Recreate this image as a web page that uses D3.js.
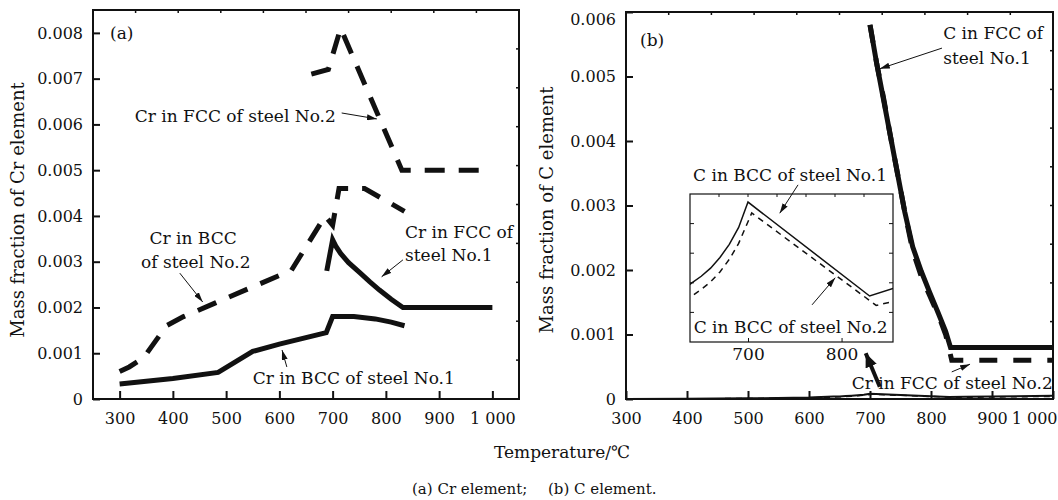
<!DOCTYPE html>
<head>
<meta charset="utf-8">
<title>Mass fraction of Cr and C</title>
<script src="https://d3js.org/d3.v7.min.js"></script>
<style>
  body { margin: 0; background: #fff; }
  text { font-family: "DejaVu Serif", serif; fill: #111; }
</style>
</head>
<body>
<svg width="1058" height="500"></svg>
<script>
// ---- data (temperature in C, mass fraction) ----
var crFccSteel2 = [[660, 0.0071], [692, 0.0072], [715, 0.0081], [830, 0.0050], [1000, 0.0050]];
var crBccSteel2 = [[300, 0.0006], [318, 0.0007], [345, 0.0009], [388, 0.0016], [420, 0.0018], [480, 0.0021], [540, 0.0024], [600, 0.0027], [622, 0.0028], [686, 0.0040], [700, 0.0038], [712, 0.0046], [760, 0.0046], [835, 0.0041]];
var crFccSteel1 = [[689, 0.0028], [700, 0.00348], [706, 0.00334], [715, 0.00318], [730, 0.00298], [751, 0.00276], [770, 0.00256], [788, 0.00238], [810, 0.00218], [832, 0.0020], [1000, 0.0020]];
var crBccSteel1 = [[300, 0.00033], [400, 0.00045], [485, 0.00058], [550, 0.00104], [600, 0.0012], [688, 0.00145], [700, 0.0018], [740, 0.0018], [780, 0.00175], [810, 0.00168], [835, 0.0016]];

var cFccSteel1 = [[700, 0.0058], [711, 0.0052], [722, 0.00465], [733, 0.0041], [745, 0.0035], [757, 0.0029], [770, 0.00236], [784, 0.00198], [798, 0.00165], [812, 0.00133], [824, 0.00105], [832, 0.0008], [1000, 0.0008]];
var cFccSteel2 = [[700, 0.0058], [711, 0.0052], [722, 0.00468], [733, 0.0041], [745, 0.0035], [757, 0.0029], [770, 0.0023], [784, 0.0019], [798, 0.0016], [812, 0.0013], [824, 0.001], [834, 0.0006], [1000, 0.0006]];
var cBccSteel1 = [[300, 0], [400, 0.000004], [500, 0.00001], [600, 0.000022], [640, 0.000037], [650, 0.0000405], [660, 0.0000448], [670, 0.0000505], [680, 0.0000575], [690, 0.0000665], [700, 0.00008], [830, 0.00003], [855, 0.000034], [1000, 0.00005]];
var cBccSteel2 = [[300, 0], [400, 0.000003], [500, 0.000008], [600, 0.000017], [640, 0.00003], [650, 0.0000335], [660, 0.0000375], [670, 0.0000428], [680, 0.0000495], [690, 0.000058], [704, 0.0000742], [837, 0.000025], [855, 0.000027], [1000, 0.00004]];

var xTicks = [300, 400, 500, 600, 700, 800, 900, 1000];
var crTicks = [0, 0.001, 0.002, 0.003, 0.004, 0.005, 0.006, 0.007, 0.008];
var cTicks = [0, 0.001, 0.002, 0.003, 0.004, 0.005, 0.006];
var insetTicks = [700, 800];

var svg = d3.select("svg");

var xa = d3.scaleLinear().domain([250, 1050]).range([93, 519]);
var ya = d3.scaleLinear().domain([0, 0.0085]).range([399, 10]);
var xb = d3.scaleLinear().domain([300, 1000]).range([626, 1053]);
var yb = d3.scaleLinear().domain([0, 0.006]).range([399, 12]);
var xi = d3.scaleLinear().domain([638, 855]).range([690, 893]);
var yi = d3.scaleLinear().domain([0.0000055, 0.0000843]).range([342, 194]);

var fmtT = function(d) { return d == 1000 ? "1 000" : d; };
var fmtY = function(d) { return d == 0 ? "0" : d3.format(".3f")(d); };

var defs = svg.append("defs");
defs.append("marker").attr("id", "head").attr("markerUnits", "userSpaceOnUse")
    .attr("viewBox", "0 0 10 6").attr("refX", 10).attr("refY", 3)
    .attr("markerWidth", 10).attr("markerHeight", 6).attr("orient", "auto")
    .append("path").attr("d", "M0,0L10,3L0,6Z").attr("fill", "#111");
defs.append("marker").attr("id", "bighead").attr("markerUnits", "userSpaceOnUse")
    .attr("viewBox", "0 0 14 12").attr("refX", 14).attr("refY", 6)
    .attr("markerWidth", 14).attr("markerHeight", 12).attr("orient", "auto")
    .append("path").attr("d", "M0,0L14,6L0,12Z").attr("fill", "#111");

function frame(x, y, yTicks, clipId) {
    var x0 = x.range()[0], x1 = x.range()[1], y0 = y.range()[0], y1 = y.range()[1];
    var g = svg.append("g");
    // minor ticks on top and right (10 equal parts)
    d3.range(1, 10).forEach(function(i) {
        var px = x0 + (x1 - x0) * i / 10, py = y1 + (y0 - y1) * i / 10;
        g.append("line").attr("x1", px).attr("x2", px).attr("y1", y1).attr("y2", y1 + 3).attr("stroke", "#111").attr("stroke-width", 1.5);
        g.append("line").attr("x1", x1).attr("x2", x1 - 3).attr("y1", py).attr("y2", py).attr("stroke", "#111").attr("stroke-width", 1.5);
    });
    g.append("g").attr("transform", "translate(0," + y0 + ")")
        .call(d3.axisBottom(x).tickValues(xTicks).tickSize(-8).tickPadding(14).tickFormat(fmtT))
        .call(function(a) {
            a.select(".domain").remove();
            a.selectAll("line").attr("stroke", "#111").attr("stroke-width", 2);
            a.selectAll("text").attr("font-size", 16).attr("font-family", "DejaVu Serif");
        });
    g.append("g").attr("transform", "translate(" + x0 + ",0)")
        .call(d3.axisLeft(y).tickValues(yTicks).tickSize(-7).tickPadding(10).tickFormat(fmtY))
        .call(function(a) {
            a.select(".domain").remove();
            a.selectAll("line").attr("stroke", "#111").attr("stroke-width", 2);
            a.selectAll("text").attr("font-size", 16).attr("font-family", "DejaVu Serif");
        });
    g.append("rect").attr("x", x0).attr("y", y1).attr("width", x1 - x0).attr("height", y0 - y1)
        .attr("fill", "none").attr("stroke", "#111").attr("stroke-width", 2);
    defs.append("clipPath").attr("id", clipId).append("rect")
        .attr("x", x0).attr("y", y1).attr("width", x1 - x0).attr("height", y0 - y1);
    return g;
}

var ga = frame(xa, ya, crTicks, "clipA");
var gb = frame(xb, yb, cTicks, "clipB");
// last tick label of panel b sits inside the window, top label drops a little
gb.selectAll(".tick text").filter(function(d) { return d == 1000; }).attr("text-anchor", "end").attr("dx", 4);
gb.selectAll(".tick text").filter(function(d) { return d == 0.006; }).attr("dy", "0.75em");

function curve(x, y, data, w, dash, clip) {
    var line = d3.line().x(function(d) { return x(d[0]); }).y(function(d) { return y(d[1]); });
    svg.append("path").datum(data).attr("d", line)
        .attr("fill", "none").attr("stroke", "#111").attr("stroke-width", w)
        .attr("stroke-dasharray", dash).attr("stroke-linejoin", "miter")
        .attr("clip-path", clip ? "url(#" + clip + ")" : null);
}

curve(xa, ya, crFccSteel2, 5, "20,14");
curve(xa, ya, crBccSteel2, 5, "20,14");
curve(xa, ya, crFccSteel1, 5, null);
curve(xa, ya, crBccSteel1, 5, null);

curve(xb, yb, cBccSteel2, 1.5, "6,5", "clipB");
curve(xb, yb, cBccSteel1, 2, null, "clipB");
curve(xb, yb, cFccSteel1, 5, null);
curve(xb, yb, cFccSteel2, 5, "18,16");

// inset
var ins = svg.append("g");
ins.append("rect").attr("x", 690).attr("y", 194).attr("width", 203).attr("height", 148).attr("fill", "#fff");
defs.append("clipPath").attr("id", "clipI").append("rect").attr("x", 690).attr("y", 194).attr("width", 203).attr("height", 148);
curve(xi, yi, cBccSteel1, 1.5, null, "clipI");
curve(xi, yi, cBccSteel2, 1.5, "6,5", "clipI");
d3.range(1, 7).forEach(function(i) {
    var px = 690 + 203 * i / 7;
    svg.append("line").attr("x1", px).attr("x2", px).attr("y1", 194).attr("y2", 197).attr("stroke", "#111");
});
d3.range(1, 5).forEach(function(i) {
    var py = 194 + 148 * i / 5;
    svg.append("line").attr("x1", 690).attr("x2", 694).attr("y1", py).attr("y2", py).attr("stroke", "#111");
    svg.append("line").attr("x1", 893).attr("x2", 889).attr("y1", py).attr("y2", py).attr("stroke", "#111");
});
svg.append("g").attr("transform", "translate(0,342)")
    .call(d3.axisBottom(xi).tickValues(insetTicks).tickSize(-4).tickPadding(6))
    .call(function(a) {
        a.select(".domain").remove();
        a.selectAll("line").attr("stroke", "#111");
        a.selectAll("text").attr("font-size", 17).attr("font-family", "DejaVu Serif");
    });
svg.append("rect").attr("x", 690).attr("y", 194).attr("width", 203).attr("height", 148)
    .attr("fill", "none").attr("stroke", "#111").attr("stroke-width", 1.2);

// annotations: [x, y, text, anchor] in data units
var labelsA = [[282, 0.0080, "(a)", "start"], [706, 0.00618, "Cr in FCC of steel No.2", "end"],
    [438, 0.00352, "Cr in BCC", "middle"], [443, 0.00299, "of steel No.2", "middle"],
    [836, 0.00365, "Cr in FCC of", "start"], [836, 0.00315, "steel No.1", "start"],
    [550, 0.00046, "Cr in BCC of steel No.1", "start"]];
var arrowsA = [[717, 0.00625, 783, 0.00612], [413, 0.00275, 456, 0.00212], [832, 0.00304, 792, 0.00267], [614, 0.0007, 605, 0.00107]];
var labelsB = [[323, 0.00557, "(b)", "start"], [820, 0.00567, "C in FCC of", "start"], [820, 0.00529, "steel No.1", "start"],
    [410, 0.00347, "C in BCC of steel No.1", "start"], [411, 0.00112, "C in BCC of steel No.2", "start"],
    [670, 0.00025, "Cr in FCC of steel No.2", "start"]];
var arrowsB = [[818, 0.00544, 716, 0.00512], [582, 0.00332, 552, 0.00288], [605, 0.00146, 643, 0.00188], [834, 0.00042, 864, 0.00054]];
var bigArrowB = [716, 0.00019, 693, 0.00071];

function annotate(x, y, labels, arrows) {
    labels.forEach(function(l) {
        svg.append("text").attr("x", x(l[0])).attr("y", y(l[1])).attr("dy", "0.35em")
            .attr("text-anchor", l[3]).attr("font-size", 17).text(l[2]);
    });
    arrows.forEach(function(a) {
        svg.append("line").attr("x1", x(a[0])).attr("y1", y(a[1])).attr("x2", x(a[2])).attr("y2", y(a[3]))
            .attr("stroke", "#111").attr("stroke-width", 1).attr("marker-end", "url(#head)");
    });
}
annotate(xa, ya, labelsA, arrowsA);
annotate(xb, yb, labelsB, arrowsB);
svg.append("line").attr("x1", xb(bigArrowB[0])).attr("y1", yb(bigArrowB[1])).attr("x2", xb(bigArrowB[2])).attr("y2", yb(bigArrowB[3]))
    .attr("stroke", "#111").attr("stroke-width", 4).attr("marker-end", "url(#bighead)");

// axis titles
svg.append("text").attr("transform", "translate(18,210) rotate(-90)").attr("text-anchor", "middle")
    .attr("dy", "0.35em").attr("font-size", 18).text("Mass fraction of Cr element");
svg.append("text").attr("transform", "translate(547,210) rotate(-90)").attr("text-anchor", "middle")
    .attr("dy", "0.35em").attr("font-size", 18).text("Mass fraction of C element");
svg.append("text").attr("x", 562).attr("y", 452).attr("dy", "0.35em").attr("text-anchor", "middle")
    .attr("font-size", 17).text("Temperature/℃");
svg.append("text").attr("x", 412).attr("y", 489).attr("dy", "0.35em").attr("font-size", 15)
    .attr("font-family", "Liberation Serif").text("(a) Cr element;");
svg.append("text").attr("x", 548).attr("y", 489).attr("dy", "0.35em").attr("font-size", 15)
    .attr("font-family", "Liberation Serif").text("(b) C element.");
</script>
</body>
